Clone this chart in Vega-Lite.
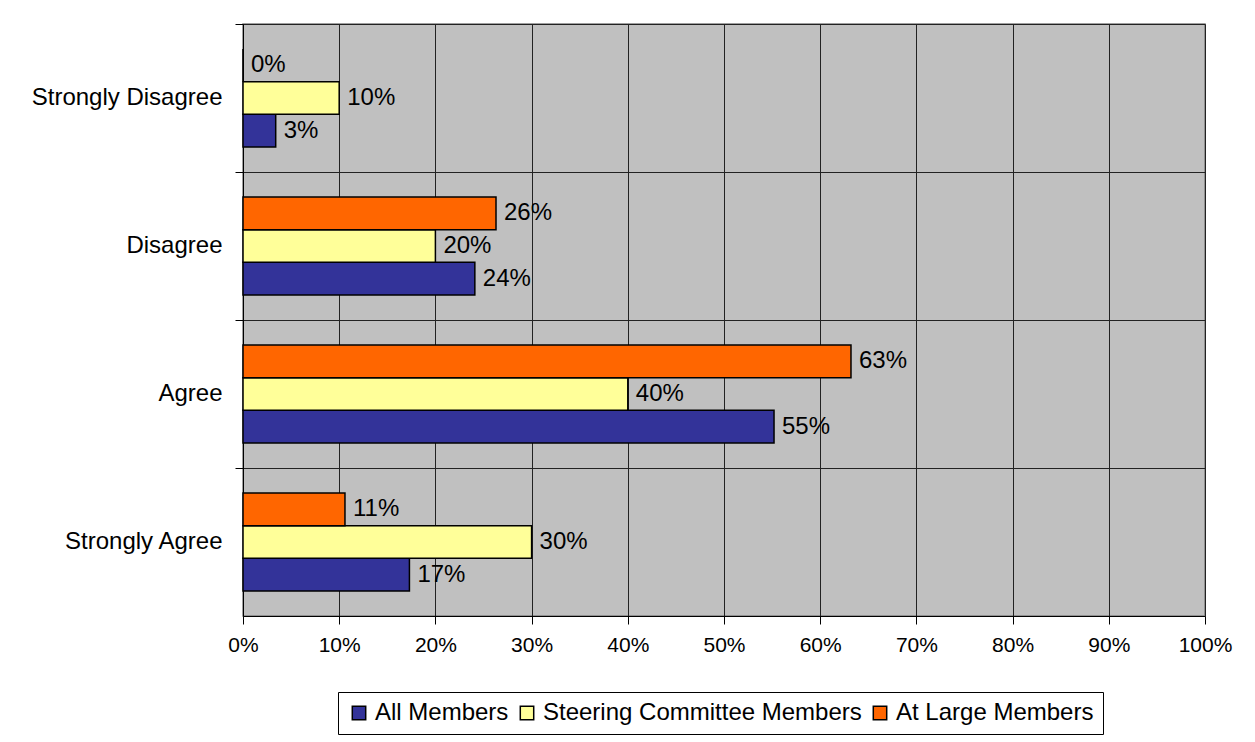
{
  "$schema": "https://vega.github.io/schema/vega-lite/v6.json",
  "width": 962,
  "height": 592,
  "autosize": {"type": "none"},
  "padding": {"left": 243, "top": 24, "right": 50, "bottom": 126},
  "background": "white",
  "data": {
    "values": [
      {"response": "Strongly Disagree", "group": "All Members", "value": 0.034},
      {"response": "Strongly Disagree", "group": "Steering Committee Members", "value": 0.10},
      {"response": "Strongly Disagree", "group": "At Large Members", "value": 0.0},
      {"response": "Disagree", "group": "All Members", "value": 0.241},
      {"response": "Disagree", "group": "Steering Committee Members", "value": 0.20},
      {"response": "Disagree", "group": "At Large Members", "value": 0.263},
      {"response": "Agree", "group": "All Members", "value": 0.552},
      {"response": "Agree", "group": "Steering Committee Members", "value": 0.40},
      {"response": "Agree", "group": "At Large Members", "value": 0.632},
      {"response": "Strongly Agree", "group": "All Members", "value": 0.173},
      {"response": "Strongly Agree", "group": "Steering Committee Members", "value": 0.30},
      {"response": "Strongly Agree", "group": "At Large Members", "value": 0.106}
    ]
  },
  "encoding": {
    "y": {
      "field": "response",
      "type": "nominal",
      "sort": ["Strongly Disagree", "Disagree", "Agree", "Strongly Agree"],
      "scale": {"paddingInner": 0, "paddingOuter": 0},
      "axis": {
        "title": null,
        "bandPosition": 0,
        "grid": true,
        "gridColor": "#222222",
        "gridWidth": 1,
        "tickSize": 8,
        "tickColor": "black",
        "domainColor": "black",
        "labelFontSize": 24,
        "labelPadding": 13,
        "labelColor": "black",
        "labelFont": "Liberation Sans",
        "labelLimit": 0
      }
    },
    "yOffset": {
      "field": "group",
      "type": "nominal",
      "sort": ["At Large Members", "Steering Committee Members", "All Members"],
      "scale": {"paddingInner": 0, "paddingOuter": 0.76}
    },
    "x": {
      "field": "value",
      "type": "quantitative",
      "scale": {"domain": [0, 1], "nice": false},
      "axis": {
        "title": null,
        "format": ".0%",
        "values": [0, 0.1, 0.2, 0.3, 0.4, 0.5, 0.6, 0.7, 0.8, 0.9, 1],
        "grid": true,
        "gridColor": "#222222",
        "gridWidth": 1,
        "tickSize": 8,
        "tickColor": "black",
        "domainColor": "black",
        "labelFontSize": 21,
        "labelPadding": 10,
        "labelColor": "black",
        "labelFont": "Liberation Sans",
        "labelFlush": false
      }
    }
  },
  "layer": [
    {
      "mark": {"type": "bar", "stroke": "black", "strokeWidth": 1.5},
      "encoding": {
        "color": {
          "field": "group",
          "type": "nominal",
          "scale": {
            "domain": ["All Members", "Steering Committee Members", "At Large Members"],
            "range": ["#333399", "#FFFF99", "#FF6600"]
          },
          "legend": {
            "title": null,
            "orient": "none",
            "legendX": 95,
            "legendY": 668,
            "direction": "horizontal",
            "strokeColor": "black",
            "fillColor": "white",
            "padding": 9,
            "symbolType": "square",
            "symbolSize": 180,
            "symbolStrokeColor": "black",
            "symbolStrokeWidth": 1.5,
            "symbolOpacity": 1,
            "labelFontSize": 24,
            "labelFont": "Liberation Sans",
            "labelColor": "black",
            "labelLimit": 0,
            "labelOffset": 4,
            "columnPadding": 6
          }
        }
      }
    },
    {
      "mark": {"type": "text", "align": "left", "baseline": "middle", "dx": 8, "fontSize": 24, "font": "Liberation Sans", "color": "black"},
      "encoding": {
        "text": {"field": "value", "type": "quantitative", "format": ".0%"}
      }
    }
  ],
  "config": {
    "view": {"fill": "#C0C0C0", "stroke": "#808080", "strokeWidth": 1.5}
  }
}
